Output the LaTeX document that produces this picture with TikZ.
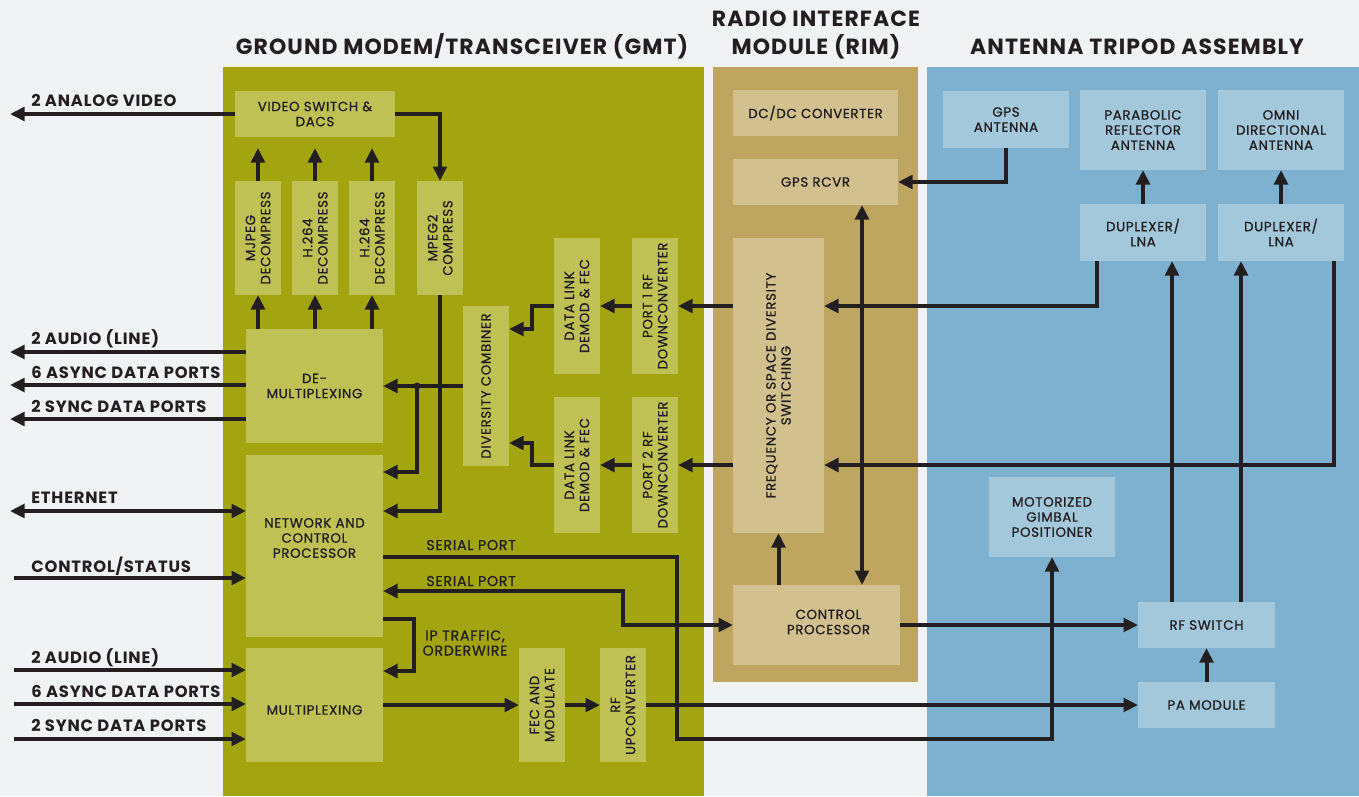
\documentclass[tikz,border=0pt]{standalone}
\usepackage{fontspec}
\setmainfont{Poppins}[LetterSpace=5]
\newfontfamily\boxfont{Poppins}[LetterSpace=5,FakeBold=1]
\usetikzlibrary{arrows.meta, fit}

\begin{document}
\begin{tikzpicture}
		[x=0.2mm,y=-0.2mm,
		%Styles
		>={Triangle[length=2.9mm,width=2.7mm]},
		box/.style={fill=#1,draw=none,inner sep=0pt,outer sep=0pt},
		htext/.style={align=center,text=ink,font=\boxfont\fontsize{7.6}{8.6}\selectfont},
		vtext/.style={htext,rotate=90},
		title/.style={font=\bfseries\fontsize{12.5}{15.4}\selectfont,text=ink,align=center,anchor=base},
		port label/.style={font=\bfseries\fontsize{9.3}{10}\selectfont,text=ink,anchor=base west,inner sep=0pt},
		small label/.style={font=\boxfont\fontsize{8.1}{8.6}\selectfont,text=ink,align=center,inner sep=0pt},
		signal/.style={line width=0.8mm,draw=ink,->}
		]
		
		%Colors
		\definecolor{paper}{HTML}{F0F2F4}
		\definecolor{ink}{HTML}{231F20}
		\definecolor{gmtpanel}{HTML}{A2A50F}
		\definecolor{gmtbox}{HTML}{BFC154}
		\definecolor{rimpanel}{HTML}{BEA660}
		\definecolor{rimbox}{HTML}{D2C18E}
		\definecolor{antpanel}{HTML}{7EB0CF}
		\definecolor{antbox}{HTML}{A3C8DC}
		
		%Background and panels
		\fill[paper] (0,0) rectangle (1359,796);
		\useasboundingbox (0,0) rectangle (1359,796);
		\fill[gmtpanel] (223,67) rectangle (704,796);
		\fill[rimpanel] (713,67) rectangle (918,682);
		\fill[antpanel] (927,67) rectangle (1359,796);
		
		%Titles
		\node[title] (tgmt) at (462,54) {GROUND MODEM/TRANSCEIVER (GMT)};
		\node[title] (trim) at (816,54) {RADIO INTERFACE\\MODULE (RIM)};
		\node[title] (tant) at (1137,54) {ANTENNA TRIPOD ASSEMBLY};
		
		%GMT blocks
		\node[box=gmtbox, fit={(235,91) (395,137)}, label={[htext]center:VIDEO SWITCH \&\\DACS}] (vsw) {};
		\node[box=gmtbox, fit={(235,181) (281,295)}, label={[vtext]center:MJPEG\\DECOMPRESS}] (mjpeg) {};
		\node[box=gmtbox, fit={(292,181) (338,295)}, label={[vtext]center:H.264\\DECOMPRESS}] (hdec1) {};
		\node[box=gmtbox, fit={(349,181) (395,295)}, label={[vtext]center:H.264\\DECOMPRESS}] (hdec2) {};
		\node[box=gmtbox, fit={(417,181) (463,295)}, label={[vtext]center:MPEG2\\COMPRESS}] (mpeg2) {};
		\node[box=gmtbox, fit={(246,329) (383,443)}, label={[htext]center:DE-\\MULTIPLEXING}] (demux) {};
		\node[box=gmtbox, fit={(246,455) (383,637)}, label={[htext,yshift=1.6mm]center:NETWORK AND\\CONTROL\\PROCESSOR}] (ncp) {};
		\node[box=gmtbox, fit={(246,648) (383,762)}, label={[htext,yshift=-1mm]center:MULTIPLEXING}] (mux) {};
		\node[box=gmtbox, fit={(463,306) (509,466)}, label={[vtext]center:DIVERSITY COMBINER}] (divc) {};
		\node[box=gmtbox, fit={(554,238) (600,374)}, label={[vtext]center:DATA LINK\\DEMOD \& FEC}] (dl1) {};
		\node[box=gmtbox, fit={(632,238) (678,374)}, label={[vtext]center:PORT 1 RF\\DOWNCONVERTER}] (pd1) {};
		\node[box=gmtbox, fit={(554,397) (600,533)}, label={[vtext]center:DATA LINK\\DEMOD \& FEC}] (dl2) {};
		\node[box=gmtbox, fit={(632,397) (678,533)}, label={[vtext]center:PORT 2 RF\\DOWNCONVERTER}] (pd2) {};
		\node[box=gmtbox, fit={(519,648) (565,762)}, label={[vtext]center:FEC AND\\MODULATE}] (fecm) {};
		\node[box=gmtbox, fit={(600,648) (646,762)}, label={[vtext]center:RF\\UPCONVERTER}] (rfup) {};
		
		%RIM blocks
		\node[box=rimbox, fit={(733,90) (898,136)}, label={[htext]center:DC/DC CONVERTER}] (dcdc) {};
		\node[box=rimbox, fit={(733,159) (898,205)}, label={[htext]center:GPS RCVR}] (gpsr) {};
		\node[box=rimbox, fit={(733,238) (824,533)}, label={[vtext]center:FREQUENCY OR SPACE DIVERSITY\\SWITCHING}] (fosd) {};
		\node[box=rimbox, fit={(733,585) (900,665)}, label={[htext,xshift=2.4mm,yshift=0.6mm]center:CONTROL\\PROCESSOR}] (ctlp) {};
		
		%Antenna blocks
		\node[box=antbox, fit={(943,91) (1069,148)}, label={[htext]center:GPS\\ANTENNA}] (gpsa) {};
		\node[box=antbox, fit={(1080,90) (1206,170)}, label={[htext]center:PARABOLIC\\REFLECTOR\\ANTENNA}] (para) {};
		\node[box=antbox, fit={(1218,90) (1344,170)}, label={[htext]center:OMNI\\DIRECTIONAL\\ANTENNA}] (omni) {};
		\node[box=antbox, fit={(1080,204) (1206,261)}, label={[htext]center:DUPLEXER/\\LNA}] (dup1) {};
		\node[box=antbox, fit={(1218,204) (1344,261)}, label={[htext]center:DUPLEXER/\\LNA}] (dup2) {};
		\node[box=antbox, fit={(989,477) (1115,557)}, label={[htext]center:MOTORIZED\\GIMBAL\\POSITIONER}] (gimbal) {};
		\node[box=antbox, fit={(1138,602) (1275,648)}, label={[htext]center:RF SWITCH}] (rfsw) {};
		\node[box=antbox, fit={(1138,682) (1275,728)}, label={[htext]center:PA MODULE}] (pam) {};
		
		%Outside ports
		\coordinate (pVid) at (10,114);
		\coordinate (pA) at (10,352);
		\coordinate (pB) at (10,385);
		\coordinate (pC) at (10,419);
		\coordinate (pEth) at (10,511);
		\coordinate (pCtl) at (14,578);
		\coordinate (pD) at (14,670);
		\coordinate (pE) at (14,704);
		\coordinate (pF) at (14,739);
		
		\draw[signal] (vsw.west) -- (pVid);
		\draw[signal] (demux.west |- pA) -- (pA);
		\draw[signal] (demux.west |- pB) -- (pB);
		\draw[signal] (demux.west |- pC) -- (pC);
		\draw[signal,<->] (pEth) -- (ncp.west |- pEth);
		\draw[signal] (pCtl) -- (ncp.west |- pCtl);
		\draw[signal] (pD) -- (mux.west |- pD);
		\draw[signal] (pE) -- (mux.west |- pE);
		\draw[signal] (pF) -- (mux.west |- pF);
		
		\node[port label] (lVid) at (31,106) {2 ANALOG VIDEO};
		\node[port label] (lA) at (31,344) {2 AUDIO (LINE)};
		\node[port label] (lB) at (31,378) {6 ASYNC DATA PORTS};
		\node[port label] (lC) at (31,412) {2 SYNC DATA PORTS};
		\node[port label] (lEth) at (31,503) {ETHERNET};
		\node[port label] (lCtl) at (31,572) {CONTROL/STATUS};
		\node[port label] (lD) at (31,663) {2 AUDIO (LINE)};
		\node[port label] (lE) at (31,697) {6 ASYNC DATA PORTS};
		\node[port label] (lF) at (31,731) {2 SYNC DATA PORTS};
		
		%Video path
		\draw[signal] (vsw.east) -| (mpeg2.north);
		\draw[signal] (mjpeg.north) -- ++(0,-33);
		\draw[signal] (hdec1.north) -- ++(0,-33);
		\draw[signal] (hdec2.north) -- ++(0,-33);
		\draw[signal] (demux.north -| mjpeg.south) -- (mjpeg.south);
		\draw[signal] (demux.north -| hdec1.south) -- (hdec1.south);
		\draw[signal] (demux.north -| hdec2.south) -- (hdec2.south);
		\draw[signal] (mpeg2.south) |- (ncp.east |- 0,511);
		
		%Receive path
		\coordinate (jn) at (417,386);
		\draw[signal] (divc.west) -- (demux.east);
		\draw[signal] (jn) |- (ncp.east |- 0,472);
		\fill[ink] (jn) circle (0.7mm);
		\draw[signal] (dl1.west) -- (532,306) |- (divc.east |- 0,329);
		\draw[signal] (dl2.west) -- (532,465) |- (divc.east |- 0,443);
		\draw[signal] (pd1.west) -- (dl1.east);
		\draw[signal] (pd2.west) -- (dl2.east);
		\draw[signal] (fosd.west |- pd1.east) -- (pd1.east);
		\draw[signal] (fosd.west |- pd2.east) -- (pd2.east);
		\draw[signal] (dup1.south -| 1097,0) |- (fosd.east |- pd1.east);
		\draw[signal] (dup2.south -| 1334,0) |- (fosd.east |- pd2.east);
		
		%RIM and antenna links
		\draw[signal] (gpsa.south) |- (gpsr.east);
		\draw[signal,<->] (gpsr.south -| 862,0) -- (ctlp.north -| 862,0);
		\draw[signal] (ctlp.north -| fosd.south) -- (fosd.south);
		\draw[signal] (ctlp.east) -- (rfsw.west);
		\draw[signal] (pam.north) -- (rfsw.south);
		\draw[signal] (rfsw.north -| 1172,0) -- (dup1.south -| 1172,0);
		\draw[signal] (rfsw.north -| 1241,0) -- (dup2.south -| 1241,0);
		\draw[signal] (dup1.north) -- (para.south);
		\draw[signal] (dup2.north) -- (omni.south);
		
		%Transmit path
		\draw[signal] (ncp.east |- 0,619) -- (414,619) |- (mux.east |- 0,671);
		\draw[signal] (mux.east) -- (fecm.west);
		\draw[signal] (fecm.east) -- (rfup.west);
		\draw[signal] (rfup.east) -- (pam.west);
		\draw[signal] (ncp.east |- 0,557) -- (677,557) -- (677,739) -| (gimbal.south);
		\draw[signal,<->] (ncp.east |- 0,591) -- (623,591) |- (ctlp.west);
		
		\node[small label, anchor=base west] (lSer1) at (426,550) {SERIAL PORT};
		\node[small label, anchor=base west] (lSer2) at (426,586) {SERIAL PORT};
		\node[small label] (lIp) at (465,643) {IP TRAFFIC,\\ORDERWIRE};
	\end{tikzpicture}
\end{document}
